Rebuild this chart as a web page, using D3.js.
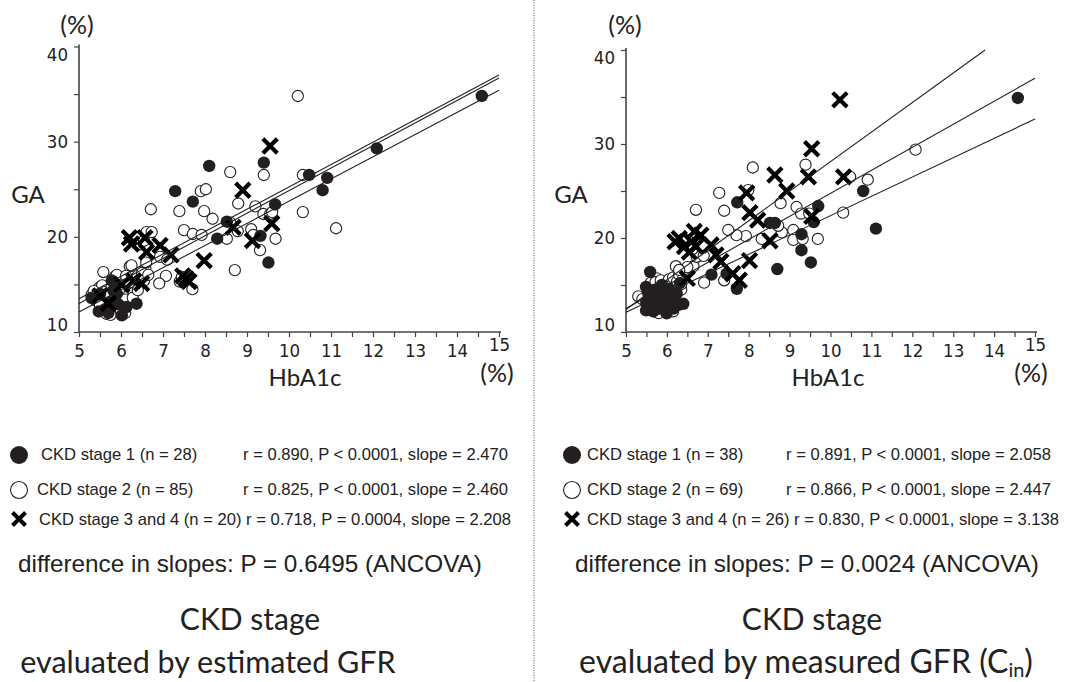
<!DOCTYPE html>
<html><head><meta charset="utf-8">
<script src="https://cdn.jsdelivr.net/npm/d3@7"></script>
<style>
html,body{margin:0;padding:0;background:#fff;}
svg{display:block;}
.tick text{font-family:"Liberation Sans Narrow","Arial Narrow","DejaVu Sans Condensed",sans-serif;font-size:18.5px;fill:#222;}
.lab{font-family:Lato,"Open Sans",sans-serif;fill:#222;}
.leg{font-family:"Liberation Sans",Arial,sans-serif;fill:#222;}
</style></head>
<body>
<svg id="chart" width="1067" height="682"></svg>
<script>
// ---------- DATA ----------
const xTickValues = [5,5.5,6,6.5,7,7.5,8,8.5,9,9.5,10,10.5,11,11.5,12,12.5,13,13.5,14,14.5,15];
const yTickValues = [10,15,20,25,30,35,40];

// Left panel: CKD stage by estimated GFR
const leftStage1 = [[14.59,34.8],[12.09,29.3],[10.48,26.5],[10.91,26.2],[10.80,24.9],[8.10,27.45],[9.40,27.8],[7.29,24.8],[7.71,23.7],[9.67,23.4],[8.52,21.6],[8.29,19.8],[9.32,20.1],[9.51,17.3],
  [5.30,13.56],[5.47,12.16],[5.78,15.41],[5.82,14.36],[5.74,13.14],[6.02,11.75],[6.13,12.62],[6.37,12.97],[5.90,14.0],[5.94,12.9],[5.62,12.4],[5.5,14.0],[5.86,15.06],[5.70,12.0]];
const leftStage2 = [[10.21,34.8],[10.33,26.5],[10.33,22.6],[11.12,20.9],[8.60,26.8],[9.40,26.5],[7.90,24.8],[8.02,25.0],[6.71,22.9],[7.39,22.7],[7.98,22.7],[8.18,21.9],[8.79,23.5],[9.20,23.2],[9.39,22.4],[9.55,22.4],[9.60,22.6],[7.50,20.7],[7.71,20.3],[7.92,20.2],[8.52,19.8],[8.60,21.5],[8.78,20.6],[9.10,20.8],[9.15,20.2],[9.68,19.8],[9.31,18.6],[8.71,16.5],[6.61,20.5],[6.73,20.5],[6.45,19.2],[6.55,19.6],[6.93,17.9],[7.10,17.6],[7.07,15.9],[6.91,15.1],[7.40,15.3],[7.70,14.5],[7.45,15.8],
  [5.58,16.3],[6.21,16.9],[6.58,16.7],[6.29,16.1],[6.23,15.8],[6.02,15.6],[5.5,14.7],[5.45,14.5],[5.55,14.9],[5.62,14.2],[5.68,13.6],[5.7,12.9],[5.66,11.9],[5.72,12.2],[5.8,12.5],[5.9,13.2],[5.95,13.8],[6.0,14.6],[6.05,14.0],[6.1,13.4],[6.15,14.8],[6.2,15.2],[6.3,14.1],[6.35,15.5],[6.4,15.9],[6.45,15.0],[6.5,16.2],[6.6,17.3],[6.25,17.0],[5.4,13.3],[5.5,12.8],[5.6,13.9],[5.78,14.8],[5.85,15.8],[5.9,16.0],[6.0,12.3],[6.1,12.0],[5.75,11.8],[5.3,13.9],[5.35,14.3],[5.95,14.4],[6.12,15.9],[6.28,13.6],[6.4,14.4],[6.55,15.4],[6.65,16.0]];
const leftStage34 = [[9.55,29.55],[8.90,24.9],[8.67,21.0],[9.59,21.4],[9.13,19.6],[7.98,17.5],[6.20,19.9],[6.25,19.25],[6.57,19.9],[6.61,18.4],[6.93,19.1],[7.19,18.1],[7.47,15.9],[7.62,15.3],[6.02,14.96],[6.49,15.1],[5.5,13.8],[5.7,13.0],[6.3,15.4],[7.55,15.6]];
// regression lines drawn in the figure: [xStart, yStart, xEnd, yEnd]
const leftFits = [[5,13.5,15,37.0],[5,13.0,15,36.7],[5,12.1,15,35.4]];

// Right panel: CKD stage by measured GFR (Cin)
const rightStage1 = [[14.58,34.9],[10.80,25.0],[11.11,21.0],[9.70,23.4],[9.59,21.7],[9.29,20.4],[9.29,18.7],[9.52,17.4],[8.70,16.7],[8.52,21.6],[8.64,21.6],[7.72,23.8],[7.09,16.1],[7.71,14.6],[7.46,16.2],
  [5.59,16.4],[5.49,14.8],[5.5,13.2],[5.49,12.3],[5.79,13.4],[5.83,12.5],[6.08,12.9],[6.24,14.1],[6.32,15.2],[6.4,13.0],[5.9,14.1],[5.71,14.5],[5.99,12.0],[6.16,12.5],[5.67,12.2],[5.55,14.2],[5.88,15.0],[6.05,14.6],[6.12,13.6],[5.75,13.0],[5.62,13.7],[6.3,12.9],[5.96,13.0]];
const rightStage2 = [[12.08,29.4],[9.39,27.8],[8.10,27.5],[7.28,24.8],[6.71,23.0],[7.40,22.9],[8.78,23.7],[7.99,25.1],[9.17,23.3],[9.28,22.6],[9.48,22.6],[10.48,26.5],[10.91,26.2],[10.31,22.7],[9.09,20.85],[9.09,19.8],[9.32,19.9],[9.69,19.9],[8.81,20.6],[8.72,21.3],[8.32,19.9],[7.93,20.2],[7.70,20.3],[7.50,20.85],[6.91,15.25],[6.65,17.0],[6.22,17.0],[7.4,15.5],[5.30,13.8],[5.75,15.7],[5.68,12.2],[6.0,12.0],[6.73,18.0],
  [5.4,13.5],[5.55,14.0],[5.6,15.2],[5.65,12.8],[5.7,13.9],[5.72,15.3],[5.78,14.6],[5.8,12.0],[5.82,13.2],[5.85,15.5],[5.9,14.8],[5.92,12.6],[5.95,13.8],[6.0,15.2],[6.02,14.2],[6.05,15.6],[6.1,12.4],[6.1,14.9],[6.15,15.8],[6.2,13.3],[6.25,15.4],[6.3,16.1],[6.35,14.5],[6.4,15.8],[6.45,16.5],[6.5,16.9],[6.55,19.0],[6.6,19.4],[6.62,18.8],[6.5,19.8],[6.9,18.1],[6.35,15.1],[6.3,16.6],[5.5,13.0],[5.58,12.5],[6.15,12.2]];
const rightStage34 = [[10.23,34.7],[9.54,29.5],[8.64,26.7],[9.46,26.5],[10.32,26.5],[7.95,24.8],[8.93,25.0],[8.03,22.7],[8.22,21.9],[9.54,22.3],[8.52,19.7],[8.02,17.6],[6.30,19.96],[6.67,20.7],[6.83,20.3],[6.43,19.1],[6.71,19.1],[7.08,19.26],[7.2,18.2],[7.32,17.5],[7.61,16.2],[7.77,15.5],[6.5,15.7],[6.6,19.6],[6.2,19.6],[6.55,18.5]];
const rightFits = [[5,12.4,13.78,40.0],[5,12.5,15,37.0],[5,12.1,15,32.66]];

const leftLegend = ["CKD stage 1 (n = 28)","CKD stage 2 (n = 85)","CKD stage 3 and 4 (n = 20) r = 0.718, P = 0.0004, slope = 2.208"];
const leftStats = ["r = 0.890, P < 0.0001, slope = 2.470","r = 0.825, P < 0.0001, slope = 2.460",""];
const rightLegend = ["CKD stage 1 (n = 38)","CKD stage 2 (n = 69)","CKD stage 3 and 4 (n = 26) r = 0.830, P < 0.0001, slope = 3.138"];
const rightStats = ["r = 0.891, P < 0.0001, slope = 2.058","r = 0.866, P < 0.0001, slope = 2.447",""];
const leftAncova = "difference in slopes: P = 0.6495 (ANCOVA)";
const rightAncova = "difference in slopes: P = 0.0024 (ANCOVA)";

// ---------- DRAW ----------
const svg = d3.select("#chart");

function crossPath(cx, cy, h){
  return `M${cx-h},${cy-h}L${cx+h},${cy+h}M${cx-h},${cy+h}L${cx+h},${cy-h}`;
}

function panel(cfg){
  const g = svg.append("g");
  const x = d3.scaleLinear().domain([5,15]).range(cfg.xr);
  const y = d3.scaleLinear().domain([10,40]).range(cfg.yr);

  // axes
  const ya = g.append("g").attr("transform",`translate(${cfg.xr[0]},0)`)
    .call(d3.axisLeft(y).tickValues(yTickValues).tickSize(5).tickPadding(6)
      .tickFormat(d => d % 10 === 0 ? d : ""));
  ya.selectAll(".tick text").attr("dy", d => d===10 ? "-0.1em" : d===40 ? "0.75em" : "0.32em");
  const xa = g.append("g").attr("transform",`translate(0,${cfg.yr[0]})`)
    .call(d3.axisBottom(x).tickValues(xTickValues).tickSize(5).tickPadding(7)
      .tickFormat(d => Number.isInteger(d) ? d : ""));
  xa.selectAll(".tick text").attr("dy", d => d===15 ? "0.4em" : "0.71em");
  [ya, xa].forEach(a => {
    a.select(".domain").attr("stroke","#444").attr("stroke-width",1.6);
    a.selectAll(".tick line").attr("stroke","#444").attr("stroke-width",1.2);
  });
  ya.select(".domain").attr("d", `M0,${cfg.yr[0]}V${cfg.yr[1]-2}`);
  xa.select(".domain").attr("d", `M${cfg.xr[0]},0H${cfg.xr[1]+2}`);

  // markers
  g.append("g").selectAll("circle").data(cfg.s2).join("circle")
    .attr("cx", d=>x(d[0])).attr("cy", d=>y(d[1])).attr("r",5.6)
    .attr("fill","#fff").attr("stroke","#222").attr("stroke-width",1.1);
  g.append("g").selectAll("circle").data(cfg.s1).join("circle")
    .attr("cx", d=>x(d[0])).attr("cy", d=>y(d[1])).attr("r",6.2)
    .attr("fill","#231f20");
  g.append("g").selectAll("path").data(cfg.s34).join("path")
    .attr("d", d=>crossPath(x(d[0]), y(d[1]), 7.2))
    .attr("stroke","#000").attr("stroke-width",4.2).attr("fill","none");

  // fit lines
  g.append("g").selectAll("line").data(cfg.fits).join("line")
    .attr("x1", d=>x(d[0])).attr("y1", d=>y(d[1]))
    .attr("x2", d=>x(d[2])).attr("y2", d=>y(d[3]))
    .attr("stroke","#222").attr("stroke-width",1.1);

  // labels
  g.append("text").attr("class","lab").attr("x",cfg.pctTop[0]).attr("y",cfg.pctTop[1])
    .attr("text-anchor","middle").attr("font-size",25).text("(%)");
  g.append("text").attr("class","lab").attr("x",cfg.ga[0]).attr("y",cfg.ga[1])
    .attr("text-anchor","middle").attr("font-size",24).text("GA");
  g.append("text").attr("class","lab").attr("x",cfg.hb[0]).attr("y",cfg.hb[1])
    .attr("text-anchor","middle").attr("font-size",24).text("HbA1c");
  g.append("text").attr("class","lab").attr("x",cfg.pctBot[0]).attr("y",cfg.pctBot[1])
    .attr("text-anchor","middle").attr("font-size",25).text("(%)");

  // legend
  const L = cfg.leg;
  const rows = [455, 490, 520];
  g.append("circle").attr("cx",L.sx).attr("cy",rows[0]).attr("r",9).attr("fill","#231f20");
  g.append("circle").attr("cx",L.sx).attr("cy",rows[1]).attr("r",8.5).attr("fill","#fff").attr("stroke","#222").attr("stroke-width",1.1);
  g.append("path").attr("d",crossPath(L.sx, rows[2]-1, 6.5)).attr("stroke","#000").attr("stroke-width",4);
  cfg.legend.forEach((t,i)=>{
    g.append("text").attr("class","leg").attr("x",L.tx[i]).attr("y",rows[i]+5)
      .attr("font-size",16.6).text(t);
    if (cfg.stats[i]) g.append("text").attr("class","leg").attr("x",L.rx).attr("y",rows[i]+5)
      .attr("font-size",16.6).text(cfg.stats[i]);
  });
  g.append("text").attr("class","leg").attr("x",L.ax).attr("y",572)
    .attr("font-size",24.3).text(cfg.ancova);

  // titles
  g.append("text").attr("class","lab").attr("x",cfg.tc).attr("y",630)
    .attr("text-anchor","middle").attr("font-size",30).text("CKD stage");
  const t2 = g.append("text").attr("class","lab").attr("x",cfg.tc2).attr("y",673)
    .attr("text-anchor","middle").attr("font-size",cfg.t2size);
  cfg.title2(t2);
}

panel({xr:[79,499], yr:[332,46.5], s1:leftStage1, s2:leftStage2, s34:leftStage34, fits:leftFits,
  pctTop:[77,34], ga:[28,203], hb:[305,386], pctBot:[497,382],
  leg:{sx:19, tx:[41,37,39], rx:243, ax:18}, legend:leftLegend, stats:leftStats, ancova:leftAncova,
  tc:250, tc2:208, t2size:30.5, title2: t => t.text("evaluated by estimated GFR")});

panel({xr:[626,1035], yr:[332,50], s1:rightStage1, s2:rightStage2, s34:rightStage34, fits:rightFits,
  pctTop:[625,34], ga:[571,203], hb:[828,386], pctBot:[1031,382],
  leg:{sx:572, tx:[587,587,587], rx:786, ax:575}, legend:rightLegend, stats:rightStats, ancova:rightAncova,
  tc:812, tc2:806, t2size:32, title2: t => {
    t.append("tspan").text("evaluated by measured GFR (C");
    t.append("tspan").attr("font-size",20).attr("dy",4).text("in");
    t.append("tspan").attr("dy",-4).text(")");
  }});

// divider
svg.append("line").attr("x1",534).attr("x2",534).attr("y1",0).attr("y2",682)
  .attr("stroke","#555").attr("stroke-width",1).attr("stroke-dasharray","1,1.5");
</script>
</body></html>
